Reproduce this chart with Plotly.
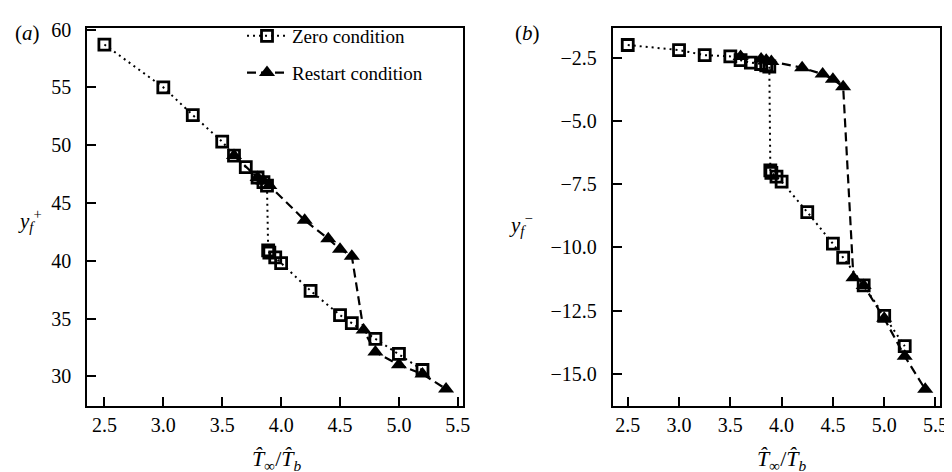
import plotly.graph_objects as go

# ---- data ----
zero_x = [2.5, 3.0, 3.25, 3.5, 3.6, 3.7, 3.8, 3.85, 3.88, 3.89, 3.9, 3.95, 4.0, 4.25, 4.5, 4.6, 4.8, 5.0, 5.2]
zero_yplus = [58.7, 55.0, 52.6, 50.3, 49.1, 48.1, 47.2, 46.8, 46.5, 40.9, 40.7, 40.3, 39.8, 37.4, 35.3, 34.6, 33.25, 31.95, 30.55]
zero_yminus = [-2.0, -2.2, -2.4, -2.45, -2.6, -2.7, -2.75, -2.8, -2.85, -6.95, -7.05, -7.2, -7.4, -8.6, -9.85, -10.4, -11.5, -12.7, -13.9]

restart_x = [3.6, 3.8, 3.85, 3.9, 4.2, 4.4, 4.5, 4.6, 4.7, 4.8, 5.0, 5.2, 5.4]
restart_yplus = [49.1, 47.2, 46.9, 46.5, 43.5, 41.9, 41.0, 40.4, 34.0, 32.1, 31.0, 30.2, 28.9]
restart_yminus = [-2.45, -2.55, -2.6, -2.65, -2.9, -3.15, -3.35, -3.65, -11.2, -11.5, -12.8, -14.3, -15.6]

x_ticks = [2.5, 3.0, 3.5, 4.0, 4.5, 5.0, 5.5]
yplus_ticks = [30, 35, 40, 45, 50, 55, 60]
yminus_ticks = [-2.5, -5.0, -7.5, -10.0, -12.5, -15.0]

FONT = "Liberation Serif"
W, H = 952, 472

fig = go.Figure()

sq = dict(symbol="square-open", size=11, color="black", line=dict(width=2.8, color="black"))
tri = dict(symbol="triangle-up", size=14, color="black", line=dict(width=0))
dotline = dict(color="black", width=2, dash="2px,4px")
dashline = dict(color="black", width=2.2, dash="9px,5px")

fig.add_trace(go.Scatter(x=zero_x, y=zero_yplus, mode="lines+markers", name="Zero condition",
                         line=dotline, marker=sq, xaxis="x", yaxis="y", legendgroup="a"))
fig.add_trace(go.Scatter(x=restart_x, y=restart_yplus, mode="lines+markers", name="Restart condition",
                         line=dashline, marker=tri, xaxis="x", yaxis="y", legendgroup="b"))
fig.add_trace(go.Scatter(x=zero_x, y=zero_yminus, mode="lines+markers", name="Zero condition",
                         line=dotline, marker=sq, xaxis="x2", yaxis="y2", showlegend=False))
fig.add_trace(go.Scatter(x=restart_x, y=restart_yminus, mode="lines+markers", name="Restart condition",
                         line=dashline, marker=tri, xaxis="x2", yaxis="y2", showlegend=False))


def axis_style(standoff):
    return dict(showline=True, linecolor="black", linewidth=2, mirror=True,
                ticks="inside", ticklen=9, tickwidth=2, tickcolor="black",
                ticklabelstandoff=standoff,
                showgrid=False, zeroline=False,
                tickfont=dict(family=FONT, size=20, color="black"))


ytop = 1 - 11 / H
ybot = 1 - 397 / H

fig.update_layout(
    width=W, height=H,
    font=dict(family=FONT, size=19, color="black"),
    margin=dict(l=0, r=0, t=0, b=0),
    plot_bgcolor="white", paper_bgcolor="white",
    xaxis=dict(domain=[80 / W, 459 / W], range=[2.355, 5.545], tickvals=x_ticks,
               ticktext=[f"{v:.1f}" for v in x_ticks], anchor="y", **axis_style(0)),
    yaxis=dict(domain=[ybot, ytop], range=[27.4, 60.15], tickvals=yplus_ticks,
               ticktext=[str(v) for v in yplus_ticks], anchor="x", **axis_style(10)),
    xaxis2=dict(domain=[610 / W, 940 / W], range=[2.355, 5.545], tickvals=x_ticks,
                ticktext=[f"{v:.1f}" for v in x_ticks], anchor="y2", **axis_style(0)),
    yaxis2=dict(domain=[ybot, ytop], range=[-16.28, -1.32], tickvals=yminus_ticks,
                ticktext=[f"\u2212{abs(v):.1f}" for v in yminus_ticks], anchor="x2", **axis_style(10)),
    showlegend=True,
    legend=dict(x=236 / W, y=1.0, xanchor="left", yanchor="top",
                bgcolor="rgba(255,255,255,0)", borderwidth=0,
                font=dict(family=FONT, size=19, color="black"),
                tracegroupgap=9, itemwidth=40),
)

annots = [
    dict(x=20 / W, y=1 - 16 / H, text="(<i>a</i>)", size=21),
    dict(x=524 / W, y=1 - 16 / H, text="(<i>b</i>)", size=21),
    dict(x=22 / W, y=1 - 207 / H, text="<i>y</i><sub><i>f</i></sub><sup>+</sup>", size=21),
    dict(x=517 / W, y=1 - 212 / H, text="<i>y</i><sub><i>f</i></sub><sup>\u2212</sup>", size=21),
    dict(x=271 / W, y=1 - 452 / H, text="<i>T\u0302</i><sub>\u221e</sub>/<i>T\u0302</i><sub><i>b</i></sub>", size=22),
    dict(x=781 / W, y=1 - 452 / H, text="<i>T\u0302</i><sub>\u221e</sub>/<i>T\u0302</i><sub><i>b</i></sub>", size=22),
]
for a in annots:
    fig.add_annotation(x=a["x"], y=a["y"], xref="paper", yref="paper", text=a["text"],
                       showarrow=False, xanchor="center", yanchor="middle",
                       font=dict(family=FONT, size=a["size"], color="black"))

fig.write_html("out.html")
